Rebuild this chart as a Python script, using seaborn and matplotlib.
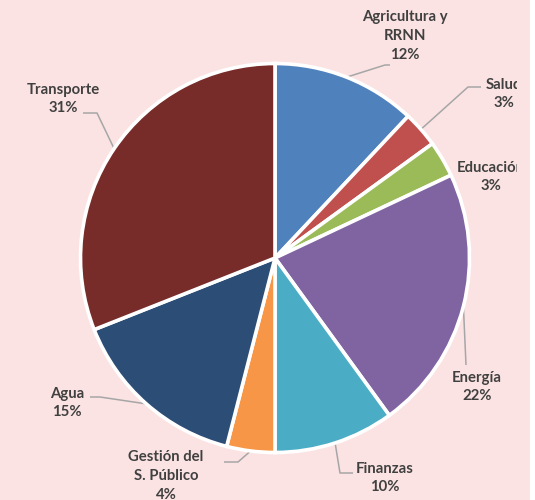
import numpy as np
import matplotlib
matplotlib.use("Agg")
import matplotlib.pyplot as plt
from matplotlib.patches import Rectangle
import seaborn as sns

# datos del grafico (porcentaje por sector)
sectores = ["Agricultura y\nRRNN", "Salud", "Educación", "Energía", "Finanzas",
            "Gestión del\nS. Público", "Agua", "Transporte"]
porcentajes = [12, 3, 3, 22, 10, 4, 15, 31]
colores = ["#4F81BD", "#C0504D", "#9BBB59", "#8064A2", "#4BACC6",
           "#F79646", "#2C4D75", "#772C2A"]

# posicion de las etiquetas (pixeles de la imagen) y codo de la linea guia
pos_etiquetas = [(405, 36), (504, 94), (491, 177), (477, 387), (385, 478),
                 (166, 476), (67, 403), (63, 99)]
lineas_guia = [[(385, 65), (390, 65)], [(468, 87), (481, 87)], None,
               [(466, 365)], [(340, 473), (353, 473)], [(238, 462), (224, 462)],
               [(100, 397), (90, 397)], [(97, 113), (83, 113)]]

fondo = "#FCE3E3"
texto = "#404040"
guia = "#A6A6A6"

sns.set_style("white")
plt.rcParams['font.family'] = ['Lato', 'DejaVu Sans']

W, H = 535, 500
CX, CY, R = 275, 258, 194.5
AX_W = 517  # las etiquetas se recortan aqui


def px(x, y):
    return ((x - CX) / R, (CY - y) / R)


fig = plt.figure(figsize=(W / 100, H / 100), dpi=100, facecolor=fondo)
fig.patches.append(Rectangle((530 / W, 0), 5 / W, 1, transform=fig.transFigure,
                             facecolor="white", edgecolor="none", zorder=0))
ax = fig.add_axes([0, 0, AX_W / W, 1])
ax.set_facecolor("none")

ax.pie(porcentajes, colors=sns.color_palette(colores), startangle=90,
       counterclock=False, radius=1,
       wedgeprops=dict(edgecolor="white", linewidth=2.6))

ax.set_xlim(-CX / R, (AX_W - CX) / R)
ax.set_ylim(-(H - CY) / R, CY / R)
ax.set_aspect("auto")
ax.axis("off")

acum = np.cumsum([0] + porcentajes[:-1])
for nombre, p, a, pos, codo in zip(sectores, porcentajes, acum, pos_etiquetas, lineas_guia):
    if codo is not None:
        th = np.deg2rad(360 * (a + p / 2) / 100)
        xs = [np.sin(th)] + [px(*c)[0] for c in codo]
        ys = [np.cos(th)] + [px(*c)[1] for c in codo]
        ax.plot(xs, ys, color=guia, lw=1.1, solid_capstyle="butt", zorder=0)
    tx, ty = px(*pos)
    t = ax.text(tx, ty, f"{nombre}\n{p}%", ha="center", va="center",
                fontsize=10.7, fontweight="bold", color=texto,
                linespacing=1.45, multialignment="center")
    t.set_clip_box(ax.bbox)
    t.set_clip_on(True)

fig.savefig("out.png", dpi=100, facecolor=fondo)
